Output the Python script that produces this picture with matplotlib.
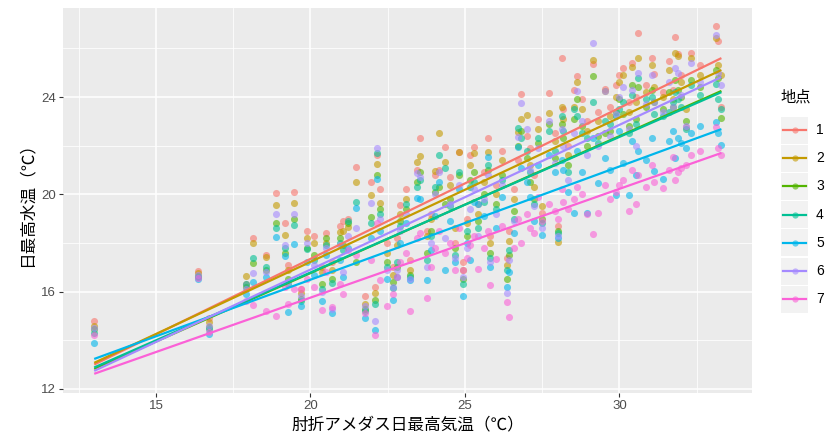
import numpy as np
import matplotlib.pyplot as plt
from matplotlib.patches import Rectangle
from matplotlib.lines import Line2D

plt.rcParams['font.family'] = ['Noto Sans CJK JP', 'DejaVu Sans']

# ------------------------------------------------------------
# data: daily max air temperature (x) and water temperature per site
# ------------------------------------------------------------
air = [13.0, 16.37, 16.7, 17.9, 18.15, 18.56, 18.88, 19.18, 19.28, 19.48,
       19.69, 19.9, 20.1, 20.36, 20.5, 20.7, 20.95, 21.05, 21.2, 21.47,
       21.77, 21.96, 22.09, 22.14, 22.25, 22.47, 22.68, 22.8, 22.9, 23.1,
       23.22, 23.44, 23.54, 23.76, 23.9, 24.03, 24.16, 24.35, 24.5, 24.68,
       24.82, 24.95, 25.05, 25.16, 25.3, 25.43, 25.6, 25.73, 25.8, 26.02,
       26.2, 26.35, 26.43, 26.6, 26.73, 26.81, 27.0, 27.1, 27.25, 27.35,
       27.5, 27.73, 27.9, 28.0, 28.13, 28.18, 28.35, 28.53, 28.61, 28.8,
       28.94, 29.13, 29.3, 29.53, 29.7, 29.9, 30.0, 30.1, 30.32, 30.4,
       30.53, 30.6, 30.85, 31.05, 31.13, 31.4, 31.6, 31.74, 31.8, 31.9,
       32.0, 32.17, 32.33, 32.6, 33.11, 33.2, 33.3]

site_1 = [14.8, 16.85, 14.9, 16.3, 18.19, 17.5, 20.07, 18.84, 17.1, 20.11,
          16.1, 18.5, 18.3, 17.0, 18.4, 17.2, 18.7, 18.9, 19.0, 21.14,
          15.8, 20.52, 16.2, 21.6, 20.2, 18.0, 17.0, 18.2, 19.56, 20.2,
          17.3, 21.0, 22.3, 18.5, 19.2, 20.8, 21.0, 21.96, 20.7, 17.99,
          21.75, 17.2, 19.0, 21.6, 21.96, 19.6, 20.9, 22.3, 18.3, 20.4,
          21.8, 17.4, 18.5, 20.2, 21.4, 24.12, 22.4, 21.9, 20.8, 23.1,
          19.22, 24.18, 22.5, 18.7, 25.59, 23.5, 22.0, 24.3, 24.88, 23.9,
          23.0, 25.36, 23.4, 24.32, 23.6, 24.5, 24.9, 25.2, 23.8, 25.38,
          24.0, 26.64, 24.5, 25.6, 24.93, 24.2, 25.5, 24.3, 26.45, 25.76,
          24.9, 22.76, 25.8, 25.3, 26.92, 26.3, 23.6]
site_2 = [14.6, 16.75, 14.76, 16.65, 17.99, 17.44, 19.55, 18.34, 16.9, 19.66,
          15.95, 18.2, 18.0, 16.8, 18.0, 16.9, 18.45, 18.5, 18.67, 20.52,
          15.5, 19.97, 15.96, 21.23, 19.66, 17.6, 16.7, 17.9, 19.2, 19.8,
          16.9, 21.34, 21.58, 18.3, 19.0, 20.95, 22.53, 21.34, 20.4, 18.6,
          21.75, 16.9, 18.8, 21.2, 21.68, 19.2, 20.5, 21.75, 18.0, 20.0,
          21.4, 17.1, 18.1, 19.8, 22.57, 23.1, 23.26, 21.2, 20.3, 22.7,
          19.5, 23.36, 22.2, 18.05, 23.6, 23.1, 21.6, 23.6, 24.63, 23.5,
          22.6, 25.52, 23.0, 24.25, 23.2, 24.0, 24.6, 24.9, 23.4, 25.25,
          23.8, 25.6, 24.2, 25.3, 24.4, 24.0, 25.1, 23.9, 25.8, 25.69,
          24.6, 23.5, 25.59, 24.9, 26.44, 25.32, 24.9]
site_3 = [14.45, 16.65, 14.56, 16.2, 17.17, 16.9, 18.84, 17.6, 16.5, 18.97,
          15.7, 17.8, 17.5, 16.3, 18.2, 16.5, 18.2, 17.9, 18.8, 17.2,
          15.3, 19.08, 15.66, 20.8, 19.4, 17.2, 16.4, 17.0, 18.9, 19.4,
          16.7, 20.5, 20.9, 17.6, 18.5, 20.1, 20.3, 19.6, 19.8, 17.8,
          20.8, 16.5, 18.3, 20.6, 20.9, 18.9, 20.0, 21.0, 17.6, 19.6,
          20.8, 16.5, 17.5, 19.3, 22.0, 22.6, 21.5, 20.5, 19.8, 22.1,
          19.0, 22.9, 21.5, 18.5, 22.9, 22.3, 21.2, 23.1, 23.9, 22.8,
          22.0, 24.86, 22.4, 22.5, 22.6, 23.4, 23.9, 23.3, 22.8, 24.5,
          23.1, 24.4, 23.6, 24.3, 23.8, 23.5, 24.2, 23.6, 24.7, 24.3,
          24.0, 23.0, 24.7, 24.4, 25.11, 24.8, 23.15]
site_4 = [14.3, 16.6, 14.45, 16.3, 17.37, 17.03, 18.6, 17.78, 16.3, 18.74,
          15.6, 17.74, 17.3, 16.1, 17.9, 16.34, 18.0, 17.7, 18.9, 19.7,
          15.22, 18.8, 15.5, 21.69, 19.2, 17.0, 16.14, 17.2, 18.7, 19.6,
          16.6, 20.3, 20.6, 17.3, 18.3, 20.3, 21.6, 21.07, 19.5, 17.5,
          20.9, 16.3, 18.5, 20.3, 20.5, 18.6, 19.7, 21.2, 17.4, 19.4,
          20.6, 16.9, 17.7, 19.0, 22.71, 22.3, 21.8, 20.9, 19.6, 22.3,
          18.8, 22.6, 21.8, 18.4, 23.2, 22.6, 20.9, 23.5, 23.2, 22.5,
          22.3, 23.81, 22.1, 23.0, 22.9, 23.2, 23.5, 23.8, 22.5, 24.1,
          22.9, 24.8, 23.9, 24.0, 23.3, 23.2, 23.4, 23.8, 24.2, 23.9,
          23.6, 22.7, 24.5, 24.1, 24.52, 23.9, 23.5]
site_5 = [13.9, 16.5, 14.25, 15.9, 16.4, 16.6, 18.23, 17.48, 15.15, 17.96,
          15.4, 17.2, 16.7, 15.6, 17.5, 15.1, 17.3, 16.6, 17.8, 19.45,
          14.9, 18.2, 14.43, 20.62, 18.5, 16.5, 15.66, 16.6, 18.0, 18.8,
          16.48, 19.84, 19.8, 16.48, 17.7, 19.1, 20.52, 16.89, 18.9, 17.2,
          20.2, 15.8, 18.0, 17.3, 19.7, 19.6, 19.1, 21.55, 17.0, 18.6,
          19.9, 16.2, 16.8, 18.4, 21.96, 21.1, 20.5, 19.9, 18.9, 21.2,
          18.33, 21.6, 20.9, 18.2, 21.4, 21.0, 20.1, 19.22, 21.8, 20.9,
          19.22, 22.3, 20.48, 21.5, 21.0, 19.97, 22.6, 21.3, 19.97, 22.2,
          20.8, 21.8, 21.4, 22.3, 20.97, 20.62, 22.2, 22.6, 21.5, 22.3,
          22.1, 21.9, 22.5, 22.8, 22.99, 22.5, 22.03]
site_6 = [14.5, 16.7, 14.6, 16.1, 16.75, 16.8, 19.19, 17.9, 16.4, 19.19,
          15.8, 18.0, 17.1, 16.0, 17.8, 15.3, 17.9, 16.8, 18.3, 18.6,
          15.4, 19.66, 14.81, 21.89, 19.0, 16.9, 16.2, 16.9, 18.5, 19.2,
          16.5, 20.89, 20.7, 17.0, 18.0, 20.0, 20.9, 18.2, 19.6, 17.4,
          20.4, 16.6, 17.8, 19.4, 20.2, 18.3, 19.8, 20.8, 17.2, 19.2,
          20.4, 15.96, 17.3, 18.9, 22.34, 23.74, 22.67, 21.0, 19.5, 21.9,
          18.6, 23.0, 21.3, 18.3, 22.7, 22.0, 20.6, 22.5, 24.26, 23.0,
          21.6, 26.23, 22.0, 24.26, 22.4, 23.3, 24.0, 24.4, 22.7, 24.3,
          22.0, 25.0, 23.7, 24.9, 23.8, 23.4, 24.6, 23.6, 25.2, 25.0,
          24.1, 22.8, 25.4, 24.6, 26.55, 25.0, 24.5]
site_7 = [14.2, 16.55, 14.35, 15.6, 15.45, 15.2, 15.0, 16.2, 15.5, 16.1,
          16.1, 16.5, 16.2, 15.25, 16.8, 15.35, 16.3, 15.9, 17.7, 17.5,
          15.1, 17.3, 14.22, 18.8, 16.48, 15.4, 15.9, 16.6, 17.23, 17.6,
          15.2, 18.2, 18.4, 15.75, 17.0, 17.8, 18.5, 17.6, 18.0, 16.89,
          18.6, 16.9, 17.4, 17.9, 18.3, 16.92, 17.8, 18.5, 16.27, 17.33,
          18.7, 15.56, 14.94, 17.8, 19.0, 18.0, 19.2, 18.6, 18.4, 19.9,
          18.9, 19.6, 19.3, 19.0, 20.2, 19.7, 19.4, 19.81, 20.3, 20.0,
          19.2, 18.36, 19.22, 20.4, 19.8, 20.11, 20.4, 20.6, 19.3, 21.0,
          19.6, 20.8, 20.3, 21.2, 20.5, 20.25, 21.0, 21.52, 20.6, 20.93,
          21.1, 21.2, 21.6, 21.8, 22.76, 21.9, 21.6]

sites = ['1', '2', '3', '4', '5', '6', '7']
water = [site_1, site_2, site_3, site_4, site_5, site_6, site_7]

# fitted (lm) values at both ends
fit_x = [13.0, 33.3]
fit_start = [13.0, 13.07, 12.82, 12.88, 13.23, 12.74, 12.62]
fit_end = [25.6, 25.11, 24.25, 24.2, 22.68, 24.82, 21.70]

colors = ['#F8766D', '#C49A00', '#53B400', '#00C094', '#00B6EB', '#A58AFF', '#FB61D7']

# ------------------------------------------------------------
# plot
# ------------------------------------------------------------
W, H = 826, 441
fig = plt.figure(figsize=(W / 100, H / 100), dpi=100)
ax = fig.add_axes([63 / W, (H - 393) / H, (752 - 63) / W, (393 - 8) / H])
ax.set_facecolor('#EBEBEB')

for ys, c in zip(water, colors):
    ax.scatter(air, ys, s=26, color=c, alpha=0.6, linewidths=0, zorder=3)

for s0, s1, c in zip(fit_start, fit_end, colors):
    ax.plot(fit_x, [s0, s1], color=c, lw=1.6, zorder=4, solid_capstyle='butt')

ax.set_xlim(11.99, 34.29)
ax.set_ylim(11.83, 27.66)

ax.set_xticks([15, 20, 25, 30])
ax.set_yticks([12, 16, 20, 24])
ax.set_xticks([12.5, 17.5, 22.5, 27.5, 32.5], minor=True)
ax.set_yticks([14, 18, 22, 26], minor=True)
ax.grid(which='major', color='white', lw=1.1, zorder=0)
ax.grid(which='minor', color='white', lw=0.55, zorder=0)
ax.set_axisbelow(True)
for sp in ax.spines.values():
    sp.set_visible(False)

ax.tick_params(which='major', length=3, width=0.8, color='#333333',
               labelcolor='#4D4D4D', labelsize=9.5, pad=2)
ax.tick_params(which='minor', length=0)
for lab in ax.get_xticklabels() + ax.get_yticklabels():
    lab.set_family('Liberation Sans')

ax.set_xlabel('肘折アメダス日最高気温（℃）', fontsize=12, labelpad=3)
ax.set_ylabel('日最高水温（℃）', fontsize=12, labelpad=4)

# legend, drawn ggplot-style with grey key boxes
fig.text(780 / W, 1 - 97 / H, '地点', fontsize=11, va='center', ha='left')
for i, (name, c) in enumerate(zip(sites, colors)):
    yc = 1 - (130 + i * 28.2) / H
    fig.patches.append(Rectangle((781 / W, yc - 13.5 / H), 27 / W, 27 / H,
                                 transform=fig.transFigure, facecolor='#F2F2F2',
                                 edgecolor='none'))
    fig.lines.append(Line2D([783 / W, 806 / W], [yc, yc], transform=fig.transFigure,
                            color=c, lw=1.6))
    fig.lines.append(Line2D([794.5 / W], [yc], transform=fig.transFigure,
                            marker='o', markersize=4.5, color=c, alpha=0.6,
                            markeredgewidth=0, linestyle='none'))
    fig.text(816 / W, yc, name, fontsize=10, va='center', ha='left',
             family='Liberation Sans')

fig.savefig('out.png', dpi=100)
